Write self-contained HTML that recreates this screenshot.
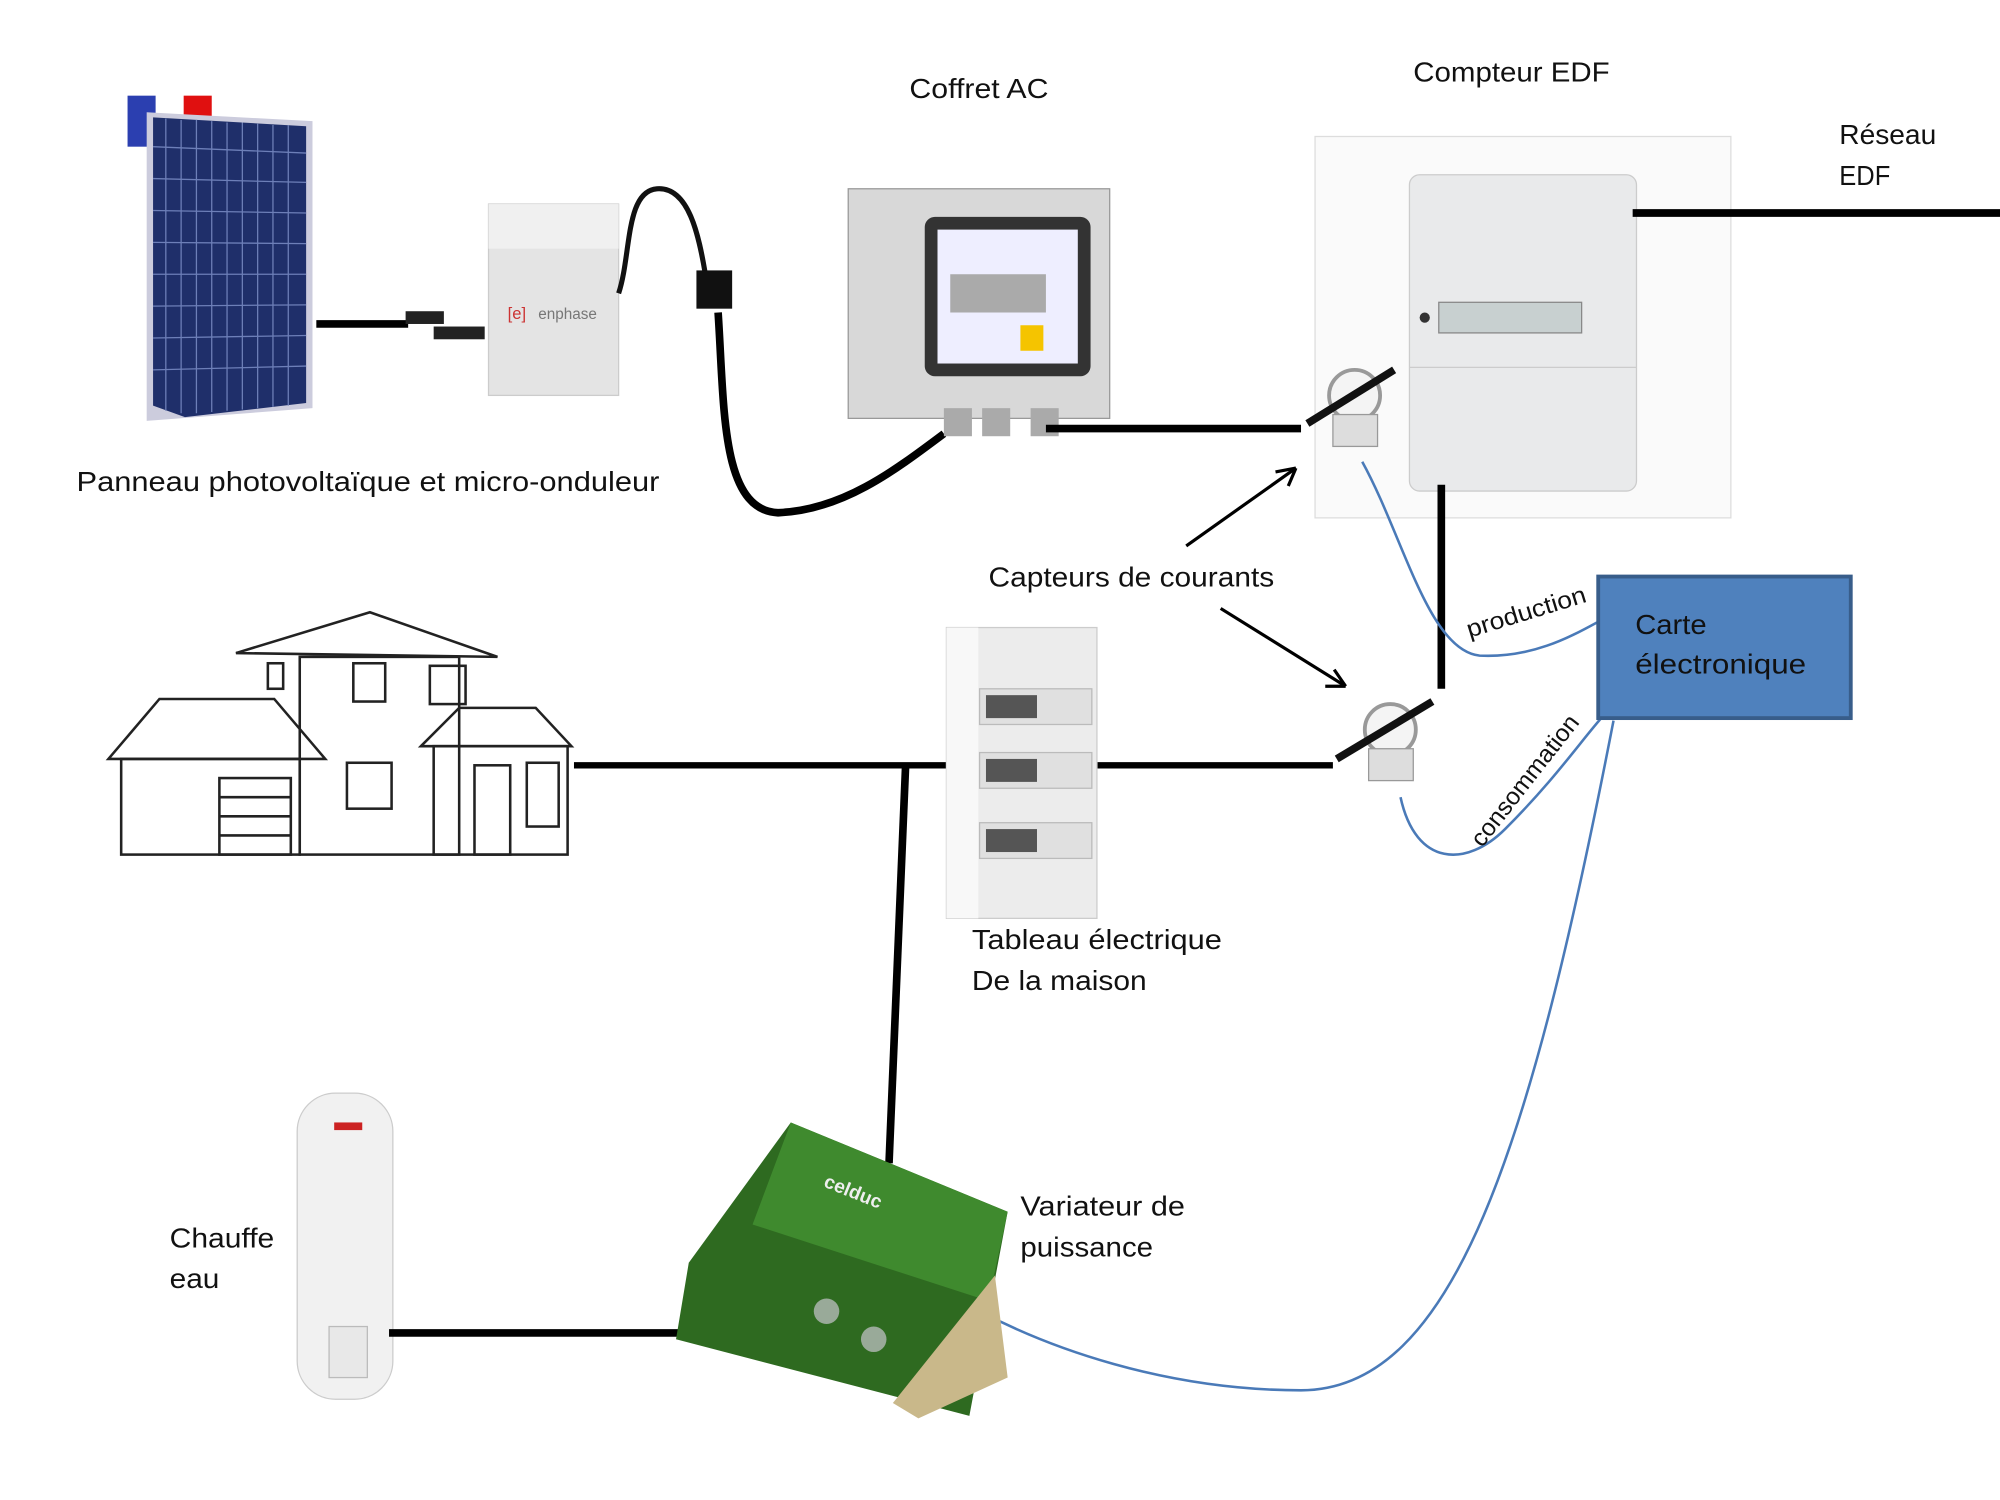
<!DOCTYPE html>
<html><head><meta charset="utf-8"><style>
html,body{margin:0;padding:0;background:#fff;width:2000px;height:1500px;overflow:hidden}
svg{display:block}
text{font-family:"Liberation Sans",sans-serif;font-size:22px;fill:#111}
</style></head><body>
<svg width="2000" height="1500" viewBox="0 0 1568 1176" xmlns="http://www.w3.org/2000/svg">
<rect width="1568" height="1176" fill="#fff"/>
<rect x="100" y="75" width="22" height="40" fill="#2b3fb0"/>
<rect x="144" y="75" width="22" height="40" fill="#e01010"/>
<polygon points="115,88 245,95 245,320 115,330" fill="#ccd" />
<polygon points="120,92 240,99 240,316 145,327 120,318" fill="#1f2f6a"/>
<g stroke="#6d7fb8" stroke-width="1">
<line x1="130" y1="93" x2="130" y2="322"/><line x1="142" y1="94" x2="142" y2="324"/><line x1="154" y1="94" x2="154" y2="324"/><line x1="166" y1="95" x2="166" y2="323"/><line x1="178" y1="96" x2="178" y2="322"/><line x1="190" y1="96" x2="190" y2="321"/><line x1="202" y1="97" x2="202" y2="320"/><line x1="214" y1="98" x2="214" y2="319"/><line x1="226" y1="98" x2="226" y2="318"/>
<line x1="120" y1="115" x2="240" y2="120"/><line x1="120" y1="140" x2="240" y2="143"/><line x1="120" y1="165" x2="240" y2="167"/><line x1="120" y1="190" x2="240" y2="191"/><line x1="120" y1="215" x2="240" y2="215"/><line x1="120" y1="240" x2="240" y2="239"/><line x1="120" y1="265" x2="240" y2="263"/><line x1="120" y1="290" x2="240" y2="287"/>
</g>
<line x1="248" y1="254" x2="320" y2="254" stroke="#000" stroke-width="6"/>
<rect x="318" y="244" width="30" height="10" fill="#222"/><rect x="340" y="256" width="40" height="10" fill="#222"/>
<rect x="383" y="160" width="102" height="150" fill="#e4e4e4" stroke="#ccc"/>
<rect x="383" y="160" width="102" height="35" fill="#f0f0f0"/>
<text x="398" y="250" style="font-size:13px;fill:#c33">[e]</text><text x="422" y="250" style="font-size:12px;fill:#777">enphase</text>
<path d="M485,230 C495,200 490,150 515,148 C540,146 548,185 553,215" fill="none" stroke="#111" stroke-width="4"/>
<rect x="546" y="212" width="28" height="30" fill="#111"/>
<path d="M563,245 C568,320 565,400 610,402 C660,400 700,370 740,340" fill="none" stroke="#000" stroke-width="6"/>
<rect x="665" y="148" width="205" height="180" fill="#d8d8d8" stroke="#999"/>
<rect x="725" y="170" width="130" height="125" rx="8" fill="#333"/>
<rect x="735" y="180" width="110" height="105" fill="#eef"/>
<rect x="745" y="215" width="75" height="30" fill="#aaa"/>
<rect x="800" y="255" width="18" height="20" fill="#f5c400"/>
<rect x="740" y="320" width="22" height="22" fill="#aaa"/><rect x="770" y="320" width="22" height="22" fill="#aaa"/><rect x="808" y="320" width="22" height="22" fill="#aaa"/>
<line x1="820" y1="336" x2="1020" y2="336" stroke="#000" stroke-width="6"/>
<rect x="1031" y="107" width="326" height="299" fill="#fafafa" stroke="#ddd"/>
<rect x="1105" y="137" width="178" height="248" rx="8" fill="#e9eaeb" stroke="#ccc"/>
<rect x="1128" y="237" width="112" height="24" fill="#c8d0d0" stroke="#888"/>
<circle cx="1117" cy="249" r="4" fill="#333"/>
<line x1="1105" y1="288" x2="1283" y2="288" stroke="#ccc"/>
<line x1="1280" y1="167" x2="1568" y2="167" stroke="#000" stroke-width="6"/>
<line x1="1130" y1="380" x2="1130" y2="540" stroke="#000" stroke-width="6"/>
<circle cx="1062" cy="310" r="20" fill="#f4f4f4" stroke="#999" stroke-width="3"/>
<rect x="1045" y="325" width="35" height="25" fill="#ddd" stroke="#999"/>
<line x1="1025" y1="332" x2="1093" y2="290" stroke="#111" stroke-width="6"/>
<circle cx="1090" cy="572" r="20" fill="#f4f4f4" stroke="#999" stroke-width="3"/>
<rect x="1073" y="587" width="35" height="25" fill="#ddd" stroke="#999"/>
<line x1="1048" y1="595" x2="1123" y2="550" stroke="#111" stroke-width="6"/>
<g stroke="#000" stroke-width="2.5">
<line x1="930" y1="428" x2="1016" y2="367"/><path d="M1016,367 l-16,3 M1016,367 l-6,14" fill="none"/>
<line x1="957" y1="477" x2="1055" y2="538"/><path d="M1055,538 l-9,-13 M1055,538 l-16,0" fill="none"/>
</g>
<text x="775" y="460" textLength="224" lengthAdjust="spacingAndGlyphs">Capteurs de courants</text>
<path d="M1068,362 C1100,420 1120,510 1160,514 C1200,516 1230,500 1252,488" fill="none" stroke="#4a7ab8" stroke-width="2"/>
<path d="M1098,625 C1110,680 1150,680 1180,650 C1220,610 1240,580 1258,560" fill="none" stroke="#4a7ab8" stroke-width="2"/>
<path d="M745,1015 C820,1060 920,1090 1020,1090 C1140,1090 1200,900 1265,565" fill="none" stroke="#4a7ab8" stroke-width="2"/>
<text x="1152" y="500" transform="rotate(-17 1152 500)" style="font-size:19px" textLength="97" lengthAdjust="spacingAndGlyphs">production</text>
<text x="1162" y="665" transform="rotate(-52 1162 665)" style="font-size:19px" textLength="125" lengthAdjust="spacingAndGlyphs">consommation</text>
<rect x="1253" y="452" width="198" height="111" fill="#4f81bd" stroke="#385d8a" stroke-width="3"/>
<text x="1282" y="497" textLength="56" lengthAdjust="spacingAndGlyphs">Carte</text>
<text x="1282" y="528" textLength="134" lengthAdjust="spacingAndGlyphs">électronique</text>
<g fill="none" stroke="#222" stroke-width="2">
<polygon points="85,595 125,548 215,548 255,595"/>
<rect x="95" y="595" width="140" height="75"/>
<rect x="172" y="610" width="56" height="60"/>
<line x1="172" y1="625" x2="228" y2="625"/><line x1="172" y1="640" x2="228" y2="640"/><line x1="172" y1="655" x2="228" y2="655"/>
<polygon points="185,512 290,480 390,515"/>
<rect x="235" y="515" width="125" height="155"/>
<rect x="277" y="520" width="25" height="30"/><rect x="337" y="522" width="28" height="30"/>
<rect x="272" y="598" width="35" height="36"/><rect x="210" y="520" width="12" height="20"/>
<polygon points="330,585 360,555 420,555 448,585"/>
<rect x="340" y="585" width="105" height="85"/>
<rect x="372" y="600" width="28" height="70"/><rect x="413" y="598" width="25" height="50"/>
</g>
<line x1="450" y1="600" x2="748" y2="600" stroke="#000" stroke-width="5"/>
<line x1="858" y1="600" x2="1045" y2="600" stroke="#000" stroke-width="5"/>
<line x1="710" y1="600" x2="697" y2="912" stroke="#000" stroke-width="6"/>
<rect x="742" y="492" width="118" height="228" fill="#ececec" stroke="#ccc"/>
<rect x="742" y="492" width="25" height="228" fill="#f8f8f8"/>
<rect x="768" y="540" width="88" height="28" fill="#e0e0e0" stroke="#bbb"/><rect x="773" y="545" width="40" height="18" fill="#555"/>
<rect x="768" y="590" width="88" height="28" fill="#e0e0e0" stroke="#bbb"/><rect x="773" y="595" width="40" height="18" fill="#555"/>
<rect x="768" y="645" width="88" height="28" fill="#e0e0e0" stroke="#bbb"/><rect x="773" y="650" width="40" height="18" fill="#555"/>
<rect x="233" y="857" width="75" height="240" rx="30" fill="#f1f1f1" stroke="#ccc"/>
<rect x="262" y="880" width="22" height="6" fill="#c22"/>
<rect x="258" y="1040" width="30" height="40" fill="#e8e8e8" stroke="#bbb"/>
<line x1="305" y1="1045" x2="640" y2="1045" stroke="#000" stroke-width="6"/>
<polygon points="620,880 790,950 760,1110 530,1050 540,990" fill="#2e6a20"/>
<polygon points="620,880 790,950 775,1020 590,960" fill="#3f8a2e"/>
<polygon points="700,1100 780,1000 790,1080 720,1112" fill="#c9b88a"/>
<circle cx="648" cy="1028" r="10" fill="#9a9"/><circle cx="685" cy="1050" r="10" fill="#9a9"/>
<text x="645" y="930" transform="rotate(22 645 930)" style="font-size:15px;fill:#eee;font-weight:bold">celduc</text>
<text x="713" y="77" textLength="109" lengthAdjust="spacingAndGlyphs">Coffret AC</text>
<text x="1108" y="64" textLength="154" lengthAdjust="spacingAndGlyphs">Compteur EDF</text>
<text x="1442" y="113" textLength="76" lengthAdjust="spacingAndGlyphs">Réseau</text><text x="1442" y="145" textLength="40" lengthAdjust="spacingAndGlyphs">EDF</text>
<text x="60" y="385" textLength="457" lengthAdjust="spacingAndGlyphs">Panneau photovoltaïque et micro-onduleur</text>
<text x="762" y="744" textLength="196" lengthAdjust="spacingAndGlyphs">Tableau électrique</text><text x="762" y="776" textLength="137" lengthAdjust="spacingAndGlyphs">De la maison</text>
<text x="800" y="953" textLength="129" lengthAdjust="spacingAndGlyphs">Variateur de</text><text x="800" y="985" textLength="104" lengthAdjust="spacingAndGlyphs">puissance</text>
<text x="133" y="978" textLength="82" lengthAdjust="spacingAndGlyphs">Chauffe</text><text x="133" y="1010" textLength="39" lengthAdjust="spacingAndGlyphs">eau</text>
</svg>
</body></html>
